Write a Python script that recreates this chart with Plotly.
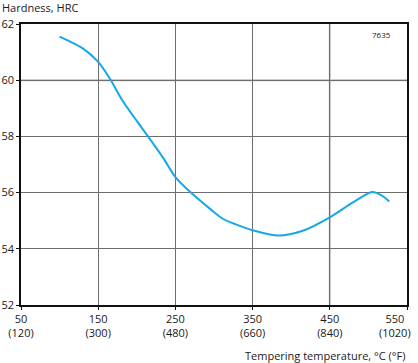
import plotly.graph_objects as go

# Data
temp_c = [100, 130, 150, 165, 182, 200, 215, 235, 250, 270, 295, 312, 330, 350,
          383, 415, 450, 480, 505, 517, 527]
hardness = [61.55, 61.13, 60.65, 60.06, 59.25, 58.55, 57.98, 57.2, 56.55, 56.0,
            55.42, 55.06, 54.85, 54.66, 54.47, 54.64, 55.12, 55.65, 56.02, 55.9, 55.68]

x_tickvals = [50, 150, 250, 350, 450, 550]
x_tick_f = [120, 300, 480, 660, 840, 1020]
y_tickvals = [52, 54, 56, 58, 60, 62]

x_ticktext = [f"{c}<br>({f})" for c, f in zip(x_tickvals, x_tick_f)]
last_label = x_ticktext[-1]
# the last label is set inside the right edge (as in the reference) via an annotation
x_ticktext[-1] = ""

FONT = "Open Sans"
fig = go.Figure()
fig.add_trace(go.Scatter(
    x=temp_c, y=hardness, mode="lines",
    line=dict(color="#14a8e6", width=2, shape="spline", smoothing=0.8),
    hoverinfo="skip", showlegend=False,
))

fig.update_layout(
    width=418, height=363,
    margin=dict(l=21, r=11, t=24, b=58, autoexpand=False),
    paper_bgcolor="white", plot_bgcolor="white",
    font=dict(family=FONT, size=11, color="#1a1a1a"),
    xaxis=dict(
        range=[50, 550], tickvals=x_tickvals, ticktext=x_ticktext,
        automargin=False, ticklabeloverflow="allow",
        showgrid=True, gridcolor="#6e6e6e", gridwidth=1,
        showline=True, linecolor="#111111", linewidth=1.5, mirror=True,
        ticks="outside", ticklen=3, tickcolor="#111111", zeroline=False,
        tickfont=dict(family=FONT, size=11),
    ),
    yaxis=dict(
        range=[52, 62], tickvals=y_tickvals,
        automargin=False, ticklabeloverflow="allow",
        showgrid=True, gridcolor="#6e6e6e", gridwidth=1,
        showline=True, linecolor="#111111", linewidth=1.5, mirror=True,
        ticks="outside", ticklen=3, tickcolor="#111111", zeroline=False,
        tickfont=dict(family=FONT, size=11),
    ),
    shapes=[
        dict(type="line", xref="x", yref="paper", x0=450, x1=450, y0=0, y1=1,
             line=dict(color="#bdbdbd", width=2), layer="below"),
        dict(type="line", xref="paper", yref="y", x0=0, x1=1, y0=60, y1=60,
             line=dict(color="#bdbdbd", width=2), layer="below"),
    ],
    annotations=[
        dict(text=last_label, xref="x", yref="paper", x=x_tickvals[-1], y=0,
             xanchor="right", yanchor="top", xshift=6, yshift=-4, align="center",
             showarrow=False, font=dict(family=FONT, size=11)),
        dict(text="Hardness, HRC", xref="paper", yref="paper", x=0, y=1,
             xanchor="left", yanchor="middle", xshift=-21, yshift=17,
             showarrow=False, font=dict(family=FONT, size=11)),
        dict(text="Tempering temperature, °C (°F)", xref="paper", yref="paper",
             x=1, y=0, xanchor="right", yanchor="middle", yshift=-50,
             showarrow=False, font=dict(family=FONT, size=11)),
        dict(text="7635", xref="paper", yref="paper", x=1, y=1,
             xanchor="right", yanchor="top", xshift=-14, yshift=-3,
             showarrow=False, font=dict(family=FONT, size=8)),
    ],
)

fig.write_html("out.html", config={"displayModeBar": False},
               post_script="document.body.style.margin='0px';document.body.style.padding='0px';")
